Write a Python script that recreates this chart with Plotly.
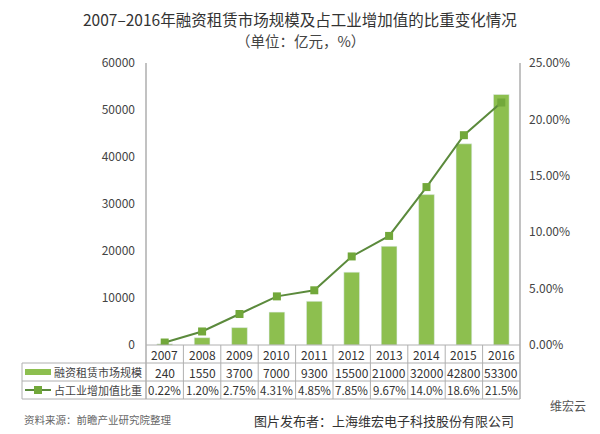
import plotly.graph_objects as go

years = ["2007", "2008", "2009", "2010", "2011", "2012", "2013", "2014", "2015", "2016"]
market_size = [240, 1550, 3700, 7000, 9300, 15500, 21000, 32000, 42800, 53300]
share_pct = [0.22, 1.20, 2.75, 4.31, 4.85, 7.85, 9.67, 14.0, 18.6, 21.5]
share_labels = ["0.22%", "1.20%", "2.75%", "4.31%", "4.85%", "7.85%", "9.67%", "14.0%", "18.6%", "21.5%"]
left_ticks = [0, 10000, 20000, 30000, 40000, 50000, 60000]
right_ticks = [0, 5, 10, 15, 20, 25]
right_tick_labels = ["0.00%", "5.00%", "10.00%", "15.00%", "20.00%", "25.00%"]

title = "2007–2016年融资租赁市场规模及占工业增加值的比重变化情况"
subtitle = "（单位：亿元，%）"
name_bar = "融资租赁市场规模"
name_line = "占工业增加值比重"
source_note = "资料来源：前瞻产业研究院整理"
publisher = "图片发布者：上海维宏电子科技股份有限公司"

OFF = 8  # page body margin offset
W, H = 600 - OFF, 434 - OFF
L, R, T, B = 146, 520, 63, 345  # target pixel positions in the screenshot
FONT = "Noto Sans CJK SC"
BAR_C = "#8dbf4f"
LINE_C = "#5b8a3c"
MARK_C = "#72a83a"
GRID_C = "#b0b0b0"

def px(xp):
    return (xp - L) / (R - L)

def py(yp):
    return (B - yp) / (B - T)

x = list(range(len(years)))

fig = go.Figure()
fig.add_trace(go.Bar(x=x, y=market_size, marker_color=BAR_C, width=0.42,
                     name=name_bar, yaxis="y"))
fig.add_trace(go.Scatter(x=x, y=share_pct, mode="lines+markers", name=name_line,
                         line=dict(color=LINE_C, width=2),
                         marker=dict(symbol="square", size=8, color=MARK_C),
                         yaxis="y2"))

fig.update_layout(
    width=W, height=H,
    margin=dict(l=L - OFF, r=600 - R, t=T - OFF, b=434 - B, autoexpand=False),
    paper_bgcolor="white", plot_bgcolor="white",
    showlegend=False,
    font=dict(family=FONT, color="#444", size=12),
    xaxis=dict(range=[-0.5, len(years) - 0.5], showticklabels=False, showgrid=False,
               zeroline=False, showline=False, ticks=""),
    yaxis=dict(range=[0, 60000], tickvals=left_ticks, tickformat="d", showgrid=False, zeroline=False,
               showline=False, ticks="", tickfont=dict(size=12, color="#444"),
               ticklabelstandoff=10),
    yaxis2=dict(range=[0, 25], tickvals=right_ticks, ticktext=right_tick_labels,
                overlaying="y", side="right", showgrid=False, zeroline=False,
                showline=False, ticks="", tickfont=dict(size=12, color="#444"),
                ticklabelstandoff=8),
)

shapes = []
line_style = dict(color=GRID_C, width=1)
shapes.append(dict(type="line", xref="paper", yref="paper", x0=0, x1=0, y0=1, y1=py(399), line=dict(color="#999", width=1.2)))
shapes.append(dict(type="line", xref="paper", yref="paper", x0=1, x1=1, y0=1, y1=py(399), line=dict(color="#999", width=1.2)))
shapes.append(dict(type="line", xref="paper", yref="paper", x0=px(22), x1=px(22), y0=py(363), y1=py(399), line=line_style))
shapes.append(dict(type="line", xref="paper", yref="paper", x0=0, x1=1, y0=0, y1=0, line=line_style))
for yp in [363, 381, 399]:
    shapes.append(dict(type="line", xref="paper", yref="paper", x0=px(22), x1=1, y0=py(yp), y1=py(yp), line=line_style))
for i in range(len(years) - 1):
    shapes.append(dict(type="line", xref="x", yref="paper", x0=i + 0.5, x1=i + 0.5,
                       y0=0, y1=py(399), line=line_style))
shapes.append(dict(type="rect", xref="paper", yref="paper", x0=px(25), x1=px(51),
                   y0=py(369), y1=py(375), fillcolor=BAR_C, line=dict(width=0)))
shapes.append(dict(type="line", xref="paper", yref="paper", x0=px(25), x1=px(51),
                   y0=py(390), y1=py(390), line=dict(color=LINE_C, width=2)))
shapes.append(dict(type="rect", xref="paper", yref="paper", x0=px(34), x1=px(42),
                   y0=py(386), y1=py(394), fillcolor=MARK_C, line=dict(width=0)))
fig.update_layout(shapes=shapes)

ann = []
for i, yr in enumerate(years):
    ann.append(dict(x=i, y=py(354), xref="x", yref="paper", text=yr, showarrow=False,
                    xanchor="center", yanchor="middle", font=dict(size=12, color="#333")))
    ann.append(dict(x=i, y=py(372), xref="x", yref="paper", text=str(market_size[i]), showarrow=False,
                    xanchor="center", yanchor="middle", font=dict(size=12, color="#333")))
    ann.append(dict(x=i, y=py(390), xref="x", yref="paper", text=share_labels[i], showarrow=False,
                    xanchor="center", yanchor="middle", font=dict(size=11.5, color="#333")))
ann.append(dict(x=px(144), y=py(372), xref="paper", yref="paper", text=name_bar, showarrow=False,
                xanchor="right", yanchor="middle", font=dict(size=11, color="#444")))
ann.append(dict(x=px(144), y=py(390), xref="paper", yref="paper", text=name_line, showarrow=False,
                xanchor="right", yanchor="middle", font=dict(size=11, color="#444")))
ann.append(dict(x=px(300), y=py(19), xref="paper", yref="paper", text=title, showarrow=False,
                xanchor="center", yanchor="middle", font=dict(size=15.5, color="#333")))
ann.append(dict(x=px(300), y=py(40), xref="paper", yref="paper", text=subtitle, showarrow=False,
                xanchor="center", yanchor="middle", font=dict(size=14.5, color="#444")))
ann.append(dict(x=px(22), y=py(419), xref="paper", yref="paper", text=source_note, showarrow=False,
                xanchor="left", yanchor="middle", font=dict(size=10.5, color="#666")))
ann.append(dict(x=px(516), y=py(420), xref="paper", yref="paper", text=publisher, showarrow=False,
                xanchor="right", yanchor="middle", font=dict(size=13, color="#333")))
ann.append(dict(x=px(588), y=py(405), xref="paper", yref="paper", text="维宏云", showarrow=False,
                xanchor="right", yanchor="middle", font=dict(size=12, color="#555")))
fig.update_layout(annotations=ann)

fig.write_html("out.html")
